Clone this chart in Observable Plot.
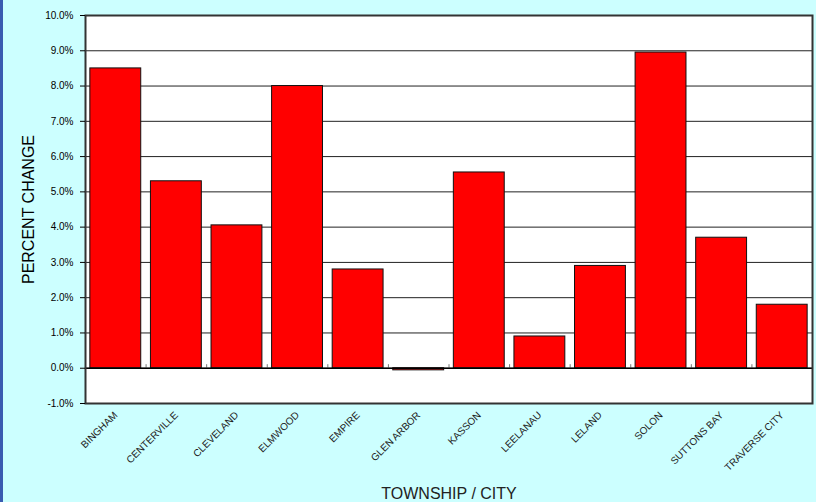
<!DOCTYPE html>
<html>
<head>
<meta charset="utf-8">
<script src="https://cdn.jsdelivr.net/npm/d3@7"></script>
<script src="https://cdn.jsdelivr.net/npm/@observablehq/plot@0.6"></script>
<style>
  html, body { margin: 0; padding: 0; background: #ccffff; }
  #chart { position: relative; width: 816px; height: 502px; background: #ccffff; overflow: hidden; }
  #chart svg { display: block; }
  #edge { position: absolute; left: 0; top: 0; width: 3px; height: 502px; background: #3a5bb0; }
</style>
</head>
<body>
<div id="chart"><div id="edge"></div></div>
<script>
// Percent change by township / city
const places = ["BINGHAM", "CENTERVILLE", "CLEVELAND", "ELMWOOD", "EMPIRE", "GLEN ARBOR",
                "KASSON", "LEELANAU", "LELAND", "SOLON", "SUTTONS BAY", "TRAVERSE CITY"];
const changes = [8.5, 5.3, 4.05, 8.0, 2.8, -0.06, 5.55, 0.9, 2.9, 8.95, 3.7, 1.8];
const yTicks = [-1, 0, 1, 2, 3, 4, 5, 6, 7, 8, 9, 10];

const data = places.map((place, i) => ({place, change: changes[i]}));

const marginLeft = 85, marginRight = 4, width = 816;
// half a band step: places the small category ticks between neighbouring bars
const halfStep = (width - marginLeft - marginRight) / places.length / 2;

const chart = Plot.plot({
  width,
  height: 502,
  marginLeft,
  marginRight,
  marginTop: 15,
  marginBottom: 99,
  style: {background: "transparent", fontFamily: "Liberation Sans, Arial, sans-serif", color: "#000"},
  x: {domain: places, paddingInner: 0.16, paddingOuter: 0.08, round: false, label: null},
  y: {domain: [-1, 10], label: null},
  marks: [
    Plot.frame({fill: "white", stroke: null}),
    Plot.ruleY(yTicks, {stroke: "#222", strokeWidth: 1}),
    Plot.barY(data, {x: "place", y: "change", fill: "#ff0000", stroke: "#111", strokeWidth: 1}),
    Plot.ruleX(places.slice(0, -1), {x: d => d, y1: 0, y2: 0.1, dx: halfStep, stroke: "#777"}),
    Plot.ruleY([0], {stroke: "#000", strokeWidth: 1.5}),
    Plot.frame({stroke: "#333", strokeWidth: 2}),
    Plot.axisY({
      ticks: yTicks,
      tickSize: 5,
      tickPadding: 7,
      fontSize: 10,
      tickFormat: d => d.toFixed(1) + "%",
      label: "PERCENT CHANGE",
      labelAnchor: "center",
      labelArrow: "none",
      labelOffset: 63
    }),
    Plot.axisX({
      tickSize: 0,
      tickRotate: -45,
      tickPadding: 10,
      fontSize: 10,
      fill: "#222",
      label: "TOWNSHIP / CITY",
      labelAnchor: "center",
      labelArrow: "none",
      labelOffset: 95
    })
  ]
});

// enlarge the two axis titles
chart.querySelectorAll("[aria-label='y-axis label'] text, [aria-label='x-axis label'] text")
  .forEach(t => t.setAttribute("font-size", "16"));

document.getElementById("chart").appendChild(chart);
</script>
</body>
</html>
